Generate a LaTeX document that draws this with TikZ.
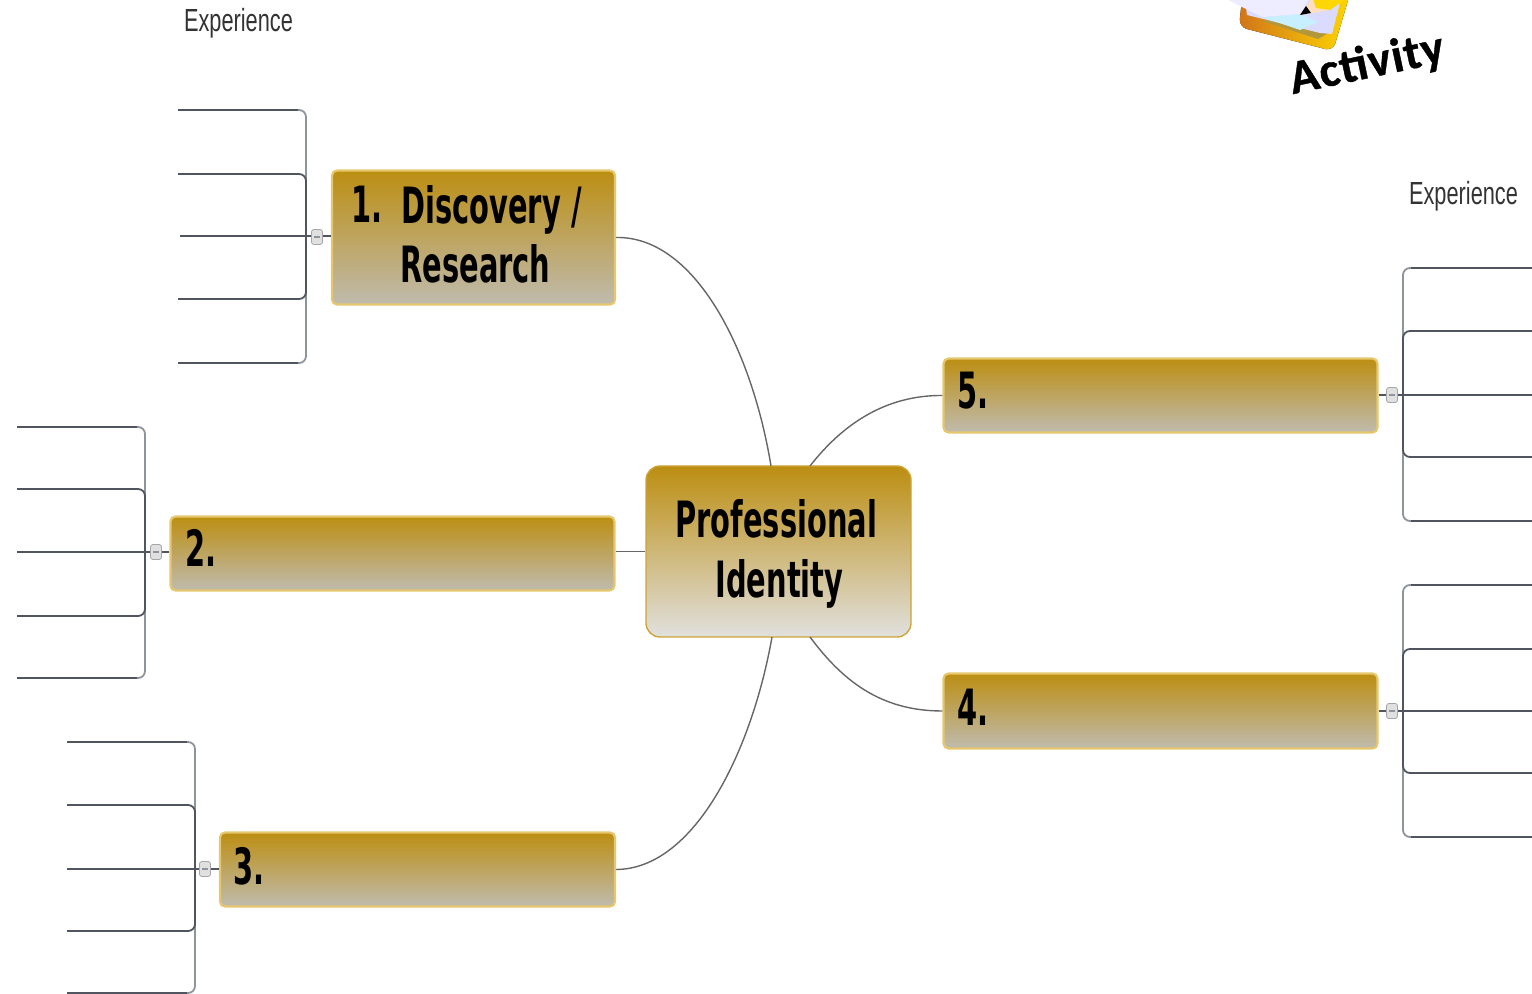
\documentclass[tikz,border=0pt]{standalone}
\usepackage{fontspec}
\usetikzlibrary{calc}
\setmainfont{DejaVu Sans}
\newfontfamily\expfont{Liberation Sans}
\newfontfamily\actfont[BoldFeatures={FakeBold=0.8,LetterSpace=2}]{Carlito}
\definecolor{goldtop}{HTML}{BC8E12}
\definecolor{goldbot}{HTML}{BFBBAE}
\definecolor{centrebot}{HTML}{E0E0DE}
\definecolor{goldedge}{HTML}{E6C76E}
\definecolor{centreedge}{HTML}{CDA436}
\definecolor{wire}{HTML}{50555F}
\definecolor{wirelight}{HTML}{8F939A}
\tikzset{
  x=0.5pt,y=-0.5pt,
  branchbox/.style={rectangle,rounded corners=2.5pt,draw=goldedge,line width=1.1pt,top color=goldtop,bottom color=goldbot,inner sep=0pt},
  centrebox/.style={rectangle,rounded corners=7pt,draw=centreedge,line width=0.7pt,top color=goldtop,bottom color=centrebot,inner sep=0pt},
  boxtext/.style={inner sep=0pt,anchor=base west,font=\bfseries\fontsize{25}{25}\selectfont,text=black},
  exptext/.style={inner sep=0pt,font=\expfont\fontsize{16}{16}\selectfont,text=black!80},
  knob/.style={rectangle,rounded corners=1.2pt,draw=black!35,line width=0.4pt,fill=black!12,minimum width=5.5pt,minimum height=7.5pt,inner sep=0pt},
  curvelink/.style={draw=black!60,line width=0.7pt},
  stub/.style={draw=wire,line width=1.4pt},
  spine/.style={draw=wirelight,line width=0.9pt,rounded corners=3.5pt},
  leafline/.style={draw=wire,line width=0.9pt,rounded corners=3.5pt},
}
\newcommand{\cond}[1]{\scalebox{0.578}[1]{#1}}
\begin{document}
\begin{tikzpicture}
\useasboundingbox (0,0) rectangle (1532,994);
\clip (0,0) rectangle (1532,994);

% clipboard icon
\fill[rounded corners=4pt,left color=orange!80!black!90,right color=yellow!70!orange] (1244,-20) -- (1239,27) -- (1333,51) -- (1354,-20) -- cycle;
\fill[yellow!55!black!75!orange] (1262,21) -- (1318,39) -- (1330,32) -- (1300,14) -- cycle;
\fill[blue!14!white] (1245,0) -- (1247,15) -- (1320,33) -- (1332,34) -- (1342,-5) -- cycle;
\fill[blue!28!cyan!22!white] (1262,17) -- (1300,14) -- (1318,22) -- (1300,30) -- cycle;
\fill[blue!7!white] (1228,0) -- (1262,17) -- (1300,14) -- (1312,-5) -- cycle;
\fill[orange!25!white] (1300,15) -- (1312,-2) -- (1330,10) -- cycle;
\fill[yellow!75!orange] (1312,-5) -- (1316,8) -- (1330,10) -- (1352,-5) -- cycle;
\fill[black] (1306,6) -- (1300,15) -- (1311,13) -- cycle;

% anchors on the bracket spines
\coordinate (hubA) at (306,236);
\coordinate (hubB) at (145,552);
\coordinate (hubC) at (195,869);
\coordinate (hubD) at (1403,711);
\coordinate (hubE) at (1403,395);

% free leaf ends
\foreach \n/\x/\y in {a1/178/110,a2/178/174,a3/180/236,a4/178/299,a5/178/363,
  b1/17/427,b2/17/489,b3/17/552,b4/17/616,b5/17/678,
  c1/67/742,c2/67/805,c3/67/869,c4/67/931,c5/67/993,
  d1/1532/585,d2/1532/649,d3/1532/711,d4/1532/773,d5/1532/837,
  e1/1532/268,e2/1532/331,e3/1532/395,e4/1532/457,e5/1532/521}
  \coordinate (\n) at (\x,\y);

% boxes
\node[centrebox,minimum width=132.5pt,minimum height=85.5pt] (core) at (778.5,551.5) {};
\node[branchbox,minimum width=141.5pt,minimum height=67pt] (one) at (473.5,237.5) {};
\node[branchbox,minimum width=222pt,minimum height=37pt] (two) at (392.5,553.5) {};
\node[branchbox,minimum width=197.5pt,minimum height=37pt] (three) at (417.5,869.5) {};
\node[branchbox,minimum width=217pt,minimum height=37.5pt] (four) at (1160.5,711) {};
\node[branchbox,minimum width=217pt,minimum height=37pt] (five) at (1160.5,395.5) {};

% links from the core
\coordinate (coreNW) at (771,466);
\coordinate (coreNE) at (810,466);
\coordinate (coreSW) at (772,637);
\coordinate (coreSE) at (810,637);
\draw[curvelink] (one.east) .. controls (695,236) and (752,350) .. (coreNW);
\draw[curvelink] (two.east |- core.west) -- (core.west);
\draw[curvelink] (three.east) .. controls (695,869) and (752,750) .. (coreSW);
\draw[curvelink] (five.west) .. controls (885,395) and (842,425) .. (coreNE);
\draw[curvelink] (four.west) .. controls (880,711) and (842,680) .. (coreSE);

% brackets: outer leaves lighter at the spine, darker along the rule
\foreach \h/\l/\s in {hubA/a/-1,hubB/b/-1,hubC/c/-1,hubD/d/1,hubE/e/1}{
  \draw[spine] (\h) |- (\l1);
  \draw[spine] (\h) |- (\l5);
  \draw[leafline] (\h) |- (\l2);
  \draw[leafline] (\h) |- (\l4);
  \draw[leafline] (\h) -- (\l3);
  \draw[leafline] (\l1) -- ($(\h |- \l1)+(\s*8,0)$);
  \draw[leafline] (\l5) -- ($(\h |- \l5)+(\s*8,0)$);
}

% stubs and knobs
\draw[stub] (one.west |- hubA) -- (hubA);
\draw[stub] (two.west |- hubB) -- (hubB);
\draw[stub] (three.west |- hubC) -- (hubC);
\draw[stub] (four.east |- hubD) -- (hubD);
\draw[stub] (five.east |- hubE) -- (hubE);
\foreach \k/\x/\y in {knobA/317/237,knobB/156/552,knobC/205/869,knobD/1392/711,knobE/1392/395}{
  \node[knob] (\k) at (\x,\y) {};
  \draw[wirelight,line width=0.6pt] ($(\k.center)+(-3,0)$) -- ($(\k.center)+(3,0)$);
}

% labels
\node[boxtext] (coreA) at (675,538) {\cond{Professional}};
\node[boxtext] (coreB) at (715,597) {\cond{Identity}};
\node[boxtext] (oneA) at (351,223) {\cond{1.}};
\node[boxtext] (oneB) at (401,224) {\cond{Discovery /}};
\node[boxtext] (oneC) at (400,283) {\cond{Research}};
\node[boxtext] (twoA) at (185,567) {\cond{2.}};
\node[boxtext] (threeA) at (233,884) {\cond{3.}};
\node[boxtext] (fourA) at (957,725) {\cond{4.}};
\node[boxtext] (fiveA) at (957,409) {\cond{5.}};
\node[exptext] (expA) at (238.5,23.5) {\scalebox{0.68}[1]{Experience}};
\node[exptext] (expB) at (1463.5,196.5) {\scalebox{0.68}[1]{Experience}};
\node[inner sep=0pt,rotate=12,font=\actfont\bfseries\fontsize{24}{24}\selectfont] (act) at (1367,65) {Activity};
\end{tikzpicture}
\end{document}
